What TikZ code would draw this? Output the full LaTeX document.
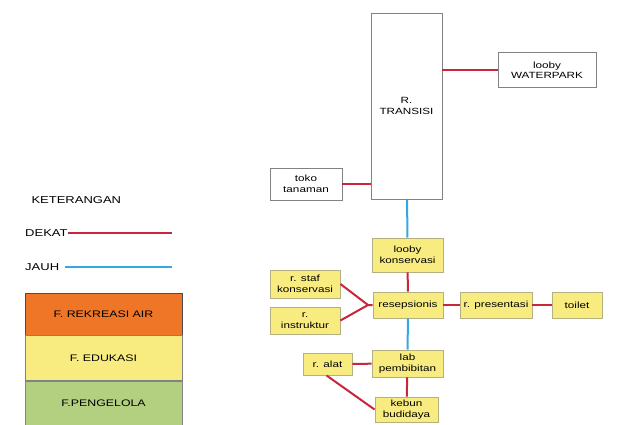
\documentclass[tikz,border=0pt]{standalone}
\usepackage{fontspec}
\setmainfont[FakeStretch=1.3]{Liberation Sans}
\usepackage{xcolor}
\usepackage{tikz}
\usetikzlibrary{positioning}
\definecolor{dekat}{RGB}{200,38,58}
\definecolor{jauh}{RGB}{52,168,224}
\definecolor{rekreasi}{RGB}{238,118,38}
\definecolor{edukasi}{RGB}{248,236,128}
\definecolor{pengelola}{RGB}{178,208,128}
\definecolor{garis}{RGB}{130,130,130}
\tikzset{
    room/.style={rectangle, draw=garis, line width=0.9pt, text centered, align=center, font=\fontsize{9}{10.5}\selectfont, inner sep=1pt},
    edu/.style={room, fill=edukasi, draw=edukasi!60!black!70},
    near/.style={draw=dekat, line width=2pt},
    far/.style={draw=jauh, line width=2pt},
    legend/.style={rectangle, draw=garis, minimum width=157pt, text centered, font=\fontsize{9.5}{11}\selectfont}
}

\begin{document}
\begin{tikzpicture}[x=1pt, y=-1pt]
    \useasboundingbox (0,0) rectangle (619,425);
    % Ruang transisi
    \node[room, fill=white, minimum width=71pt, minimum height=186pt] (transisi) at (406.5,106) {R.\\TRANSISI};
    \node[room, fill=white, minimum width=98pt, minimum height=35pt] (waterpark) at (547,70) {looby\\WATERPARK};
    \node[room, fill=white, minimum width=72pt, minimum height=32pt] (toko) at (306,184) {toko\\tanaman};
    % Fasilitas edukasi
    \node[edu, minimum width=71pt, minimum height=34pt] (lobby_kons) at (407.5,255) {looby\\konservasi};
    \node[edu, minimum width=70pt, minimum height=28pt] (staf) at (305,284) {r. staf\\konservasi};
    \node[edu, minimum width=70pt, minimum height=27pt] (instruktur) at (305,320.5) {r.\\instruktur};
    \node[edu, minimum width=70pt, minimum height=26pt] (resepsionis) at (408,305) {resepsionis};
    \node[edu, minimum width=72pt, minimum height=26pt] (presentasi) at (496,305) {r. presentasi};
    \node[edu, minimum width=50pt, minimum height=26pt] (toilet) at (577,305) {toilet};
    \node[edu, minimum width=71pt, minimum height=27pt] (lab) at (407.5,363.5) {lab\\pembibitan};
    \node[edu, minimum width=49pt, minimum height=22pt] (alat) at (327.5,364) {r. alat};
    \node[edu, minimum width=63pt, minimum height=25pt] (kebun) at (406.5,409.5) {kebun\\budidaya};
    \coordinate (temu) at (368,305);

    % Hubungan dekat / jauh
    \draw[near] (transisi.east |- waterpark) -- (waterpark);
    \draw[near, line width=2.6pt] (toko) -- (transisi.west |- toko);
    \draw[far] (transisi) -- (lobby_kons);
    \draw[near] (lobby_kons) -- (resepsionis);
    \draw[near] (staf.east) -- (temu) -- (resepsionis);
    \draw[near] (instruktur.east) -- (temu);
    \draw[near] (resepsionis) -- (presentasi);
    \draw[near] (presentasi) -- (toilet);
    \draw[far] (resepsionis) -- (lab);
    \draw[near] (alat) -- (lab);
    \draw[near] (lab) -- (kebun);
    \draw[near] ([xshift=-1pt]alat.south) -- (kebun.west);

    % Keterangan
    \node[anchor=west, font=\fontsize{10}{11}\selectfont] (ket) at (28,200) {KETERANGAN};
    \node[anchor=west, font=\fontsize{10}{11}\selectfont, inner sep=0pt] (dekat_lbl) at (25,233) {DEKAT};
    \coordinate (dekat_end) at (172,233);
    \draw[near] (dekat_lbl.east) -- (dekat_end);
    \node[anchor=west, font=\fontsize{10}{11}\selectfont, inner sep=0pt] (jauh_lbl) at (25,267) {JAUH};
    \coordinate (jauh_end) at (172,267);
    \draw[far] ([xshift=6pt]jauh_lbl.east) -- (jauh_end);
    \node[legend, fill=rekreasi, minimum height=42pt, draw=black!70] (f_rekreasi) at (103.5,314) {F. REKREASI AIR};
    \node[legend, fill=edukasi, minimum height=45pt, below=0pt of f_rekreasi] (f_edukasi) {F. EDUKASI};
    \node[legend, fill=pengelola, minimum height=45pt, below=0pt of f_edukasi] (f_pengelola) {F.PENGELOLA};
\end{tikzpicture}
\end{document}
